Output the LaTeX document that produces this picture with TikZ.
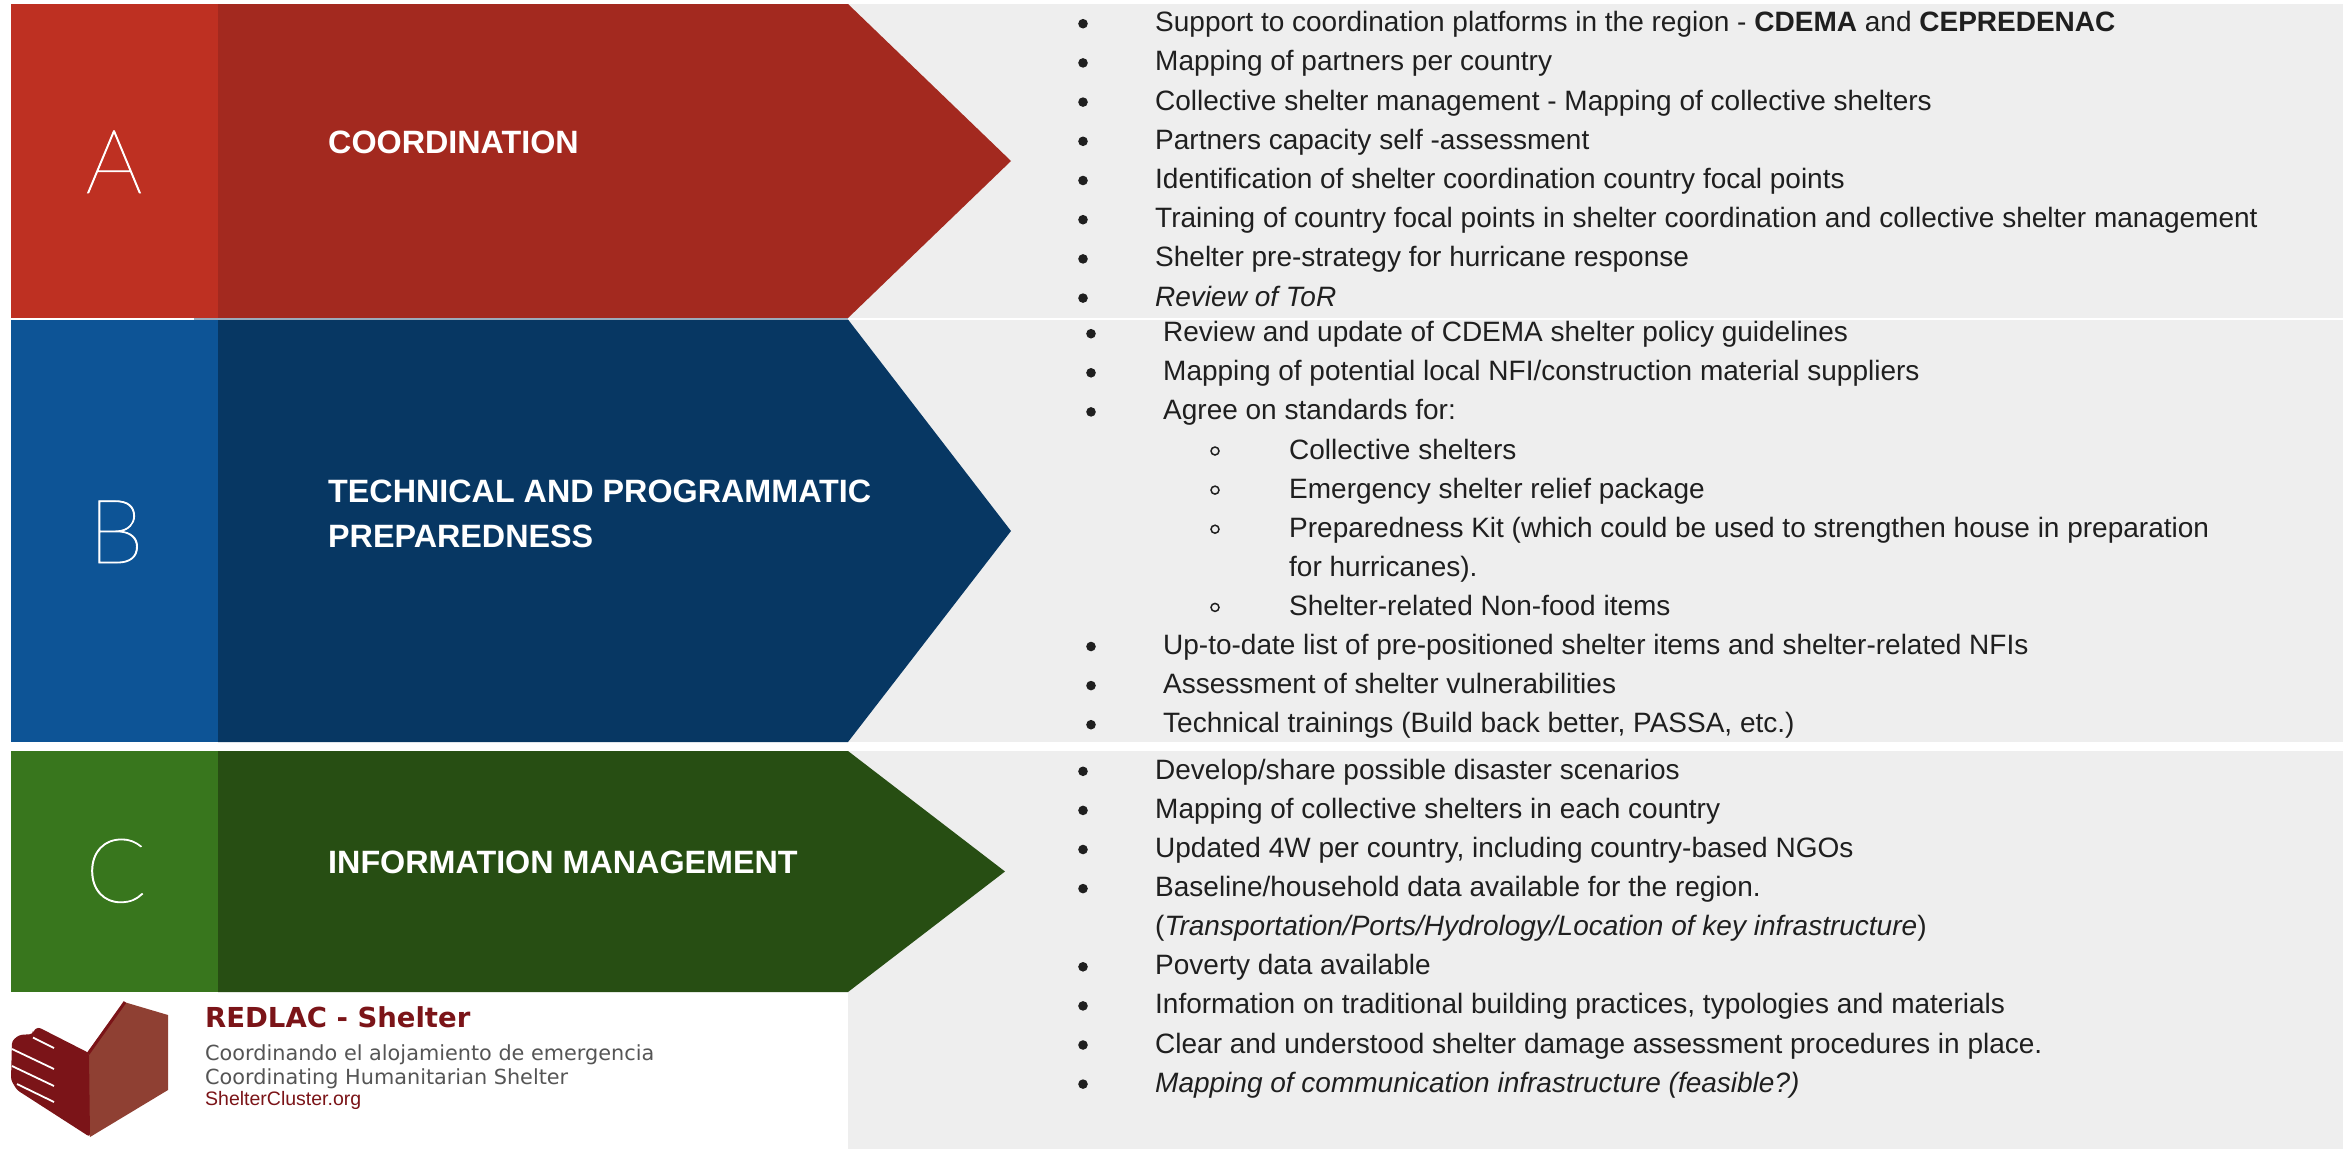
\documentclass[tikz,border=0pt]{standalone}
\usepackage{fontspec}
\setmainfont{Liberation Sans}
\newfontfamily\logofont{DejaVu Sans}
\IfFontExistsTF{Lato Hairline}{\newfontfamily\thinfont{Lato Hairline}[FakeBold=1]}{%
 \IfFontExistsTF{Lato Thin}{\newfontfamily\thinfont{Lato Thin}}{%
  \IfFontExistsTF{Fira Sans Thin}{\newfontfamily\thinfont{Fira Sans Thin}}{%
   \IfFontExistsTF{Lato Light}{\newfontfamily\thinfont{Lato Light}}{%
    \IfFontExistsTF{DejaVu Sans ExtraLight}{\newfontfamily\thinfont{DejaVu Sans ExtraLight}}{%
     \newfontfamily\thinfont{Liberation Sans}}}}}}
\definecolor{Alight}{HTML}{BE3022}
\definecolor{Adark}{HTML}{A3291F}
\definecolor{Blight}{HTML}{0D5496}
\definecolor{Bdark}{HTML}{073763}
\definecolor{Clight}{HTML}{38761D}
\definecolor{Cdark}{HTML}{274E13}
\definecolor{panel}{HTML}{EEEEEE}
\definecolor{txt}{HTML}{1F1F1F}
\definecolor{seam}{HTML}{9AAABB}
\definecolor{logodark}{HTML}{7B1418}
\definecolor{logolight}{HTML}{8F4033}
\definecolor{logogray}{HTML}{555555}
\begin{document}
\begin{tikzpicture}[x=1pt,y=-1pt,
  item/.style={anchor=base west, inner sep=0pt, text=txt, font=\fontsize{28}{34}\selectfont},
  title/.style={anchor=base west, inner sep=0pt, text=white, font=\bfseries\fontsize{32.3}{40}\selectfont},
  letter/.style={anchor=base, inner sep=0pt, text=white, font=\thinfont\fontsize{89}{100}\selectfont},
  dot/.style={fill=txt},
  ring/.style={draw=txt, line width=1.5pt},
  logotitle/.style={anchor=base west, inner sep=0pt, text=logodark, font=\logofont\bfseries\fontsize{27.5}{30}\selectfont},
  logosub/.style={anchor=base west, inner sep=0pt, text=logogray, font=\logofont\fontsize{20.8}{24}\selectfont},
  logourl/.style={anchor=base west, inner sep=0pt, text=logodark, font=\fontsize{19.5}{22}\selectfont}
]
\useasboundingbox (0,0) rectangle (2343,1149);
\fill[white] (0,0) rectangle (2343,1149);
% right panels
\fill[panel] (848,4) rectangle (2343,1149);
\fill[white] (848,318) rectangle (2343,319.5);
\fill[white] (0,742) rectangle (2343,751);
% arrow A
\fill[Adark] (218,4) -- (848,4) -- (1011,161) -- (848,318) -- (218,318) -- cycle;
\fill[Alight] (11,4) rectangle (218,318);
% arrow B
\fill[Bdark] (218,319.5) -- (848,319.5) -- (1011,531) -- (848,742) -- (218,742) -- cycle;
\fill[Blight] (11,319.5) rectangle (218,742);
\fill[seam] (194,318) rectangle (848,319.5);
% arrow C
\fill[Cdark] (218,751) -- (848,751) -- (1005,871.5) -- (848,992) -- (218,992) -- cycle;
\fill[Clight] (11,751) rectangle (218,992);
% letters
\node[letter] (lA) at (114,193) {A};
\node[letter] (lB) at (116,563) {B};
\node[letter] (lC) at (116,902) {C};
% titles
\node[title] (tA) at (328,153) {COORDINATION};
\node[title] (tB1) at (328,502) {TECHNICAL AND PROGRAMMATIC};
\node[title] (tB2) at (328,547) {PREPAREDNESS};
\node[title] (tC) at (328,873) {INFORMATION MANAGEMENT};
% A list
\foreach \y in {31.7,70.9,110.1,149.3,188.5,227.7,266.9,306.1} {\fill[dot] (1083,\y-8) circle (4.8);}
\node[item] (a1) at (1155,31.7) {Support to coordination platforms in the region - \textbf{CDEMA} and \textbf{CEPREDENAC}};
\node[item] (a2) at (1155,70.9) {Mapping of partners per country};
\node[item] (a3) at (1155,110.1) {Collective shelter management - Mapping of collective shelters};
\node[item] (a4) at (1155,149.3) {Partners capacity self -assessment};
\node[item] (a5) at (1155,188.5) {Identification of shelter coordination country focal points};
\node[item] (a6) at (1155,227.7) {Training of country focal points in shelter coordination and collective shelter management};
\node[item] (a7) at (1155,266.9) {Shelter pre-strategy for hurricane response};
\node[item] (a8) at (1155,306.1) {\itshape Review of ToR};
% B list
\foreach \y in {341.7,380.8,419.9,654.5,693.6,732.7} {\fill[dot] (1091,\y-8) circle (4.8);}
\foreach \y in {459.0,498.1,537.2,615.4} {\draw[ring] (1215,\y-8) circle (4);}
\node[item] (b1) at (1163,341.7) {Review and update of CDEMA shelter policy guidelines};
\node[item] (b2) at (1163,380.8) {Mapping of potential local NFI/construction material suppliers};
\node[item] (b3) at (1163,419.9) {Agree on standards for:};
\node[item] (s1) at (1289,459.0) {Collective shelters};
\node[item] (s2) at (1289,498.1) {Emergency shelter relief package};
\node[item] (s3) at (1289,537.2) {Preparedness Kit (which could be used to strengthen house in preparation};
\node[item] (s3b) at (1289,576.3) {for hurricanes).};
\node[item] (s4) at (1289,615.4) {Shelter-related Non-food items};
\node[item] (b4) at (1163,654.5) {Up-to-date list of pre-positioned shelter items and shelter-related NFIs};
\node[item] (b5) at (1163,693.6) {Assessment of shelter vulnerabilities};
\node[item] (b6) at (1163,732.7) {Technical trainings (Build back better, PASSA, etc.)};
% C list
\foreach \y in {779.3,818.4,857.5,896.6,974.8,1013.9,1053.0,1092.1} {\fill[dot] (1083,\y-8) circle (4.8);}
\node[item] (c1) at (1155,779.3) {Develop/share possible disaster scenarios};
\node[item] (c2) at (1155,818.4) {Mapping of collective shelters in each country};
\node[item] (c3) at (1155,857.5) {Updated 4W per country, including country-based NGOs};
\node[item] (c4) at (1155,896.6) {Baseline/household data available for the region.};
\node[item] (c4b) at (1155,935.7) {(\textit{Transportation/Ports/Hydrology/Location of key infrastructure})};
\node[item] (c5) at (1155,974.8) {Poverty data available};
\node[item] (c6) at (1155,1013.9) {Information on traditional building practices, typologies and materials};
\node[item] (c7) at (1155,1053.0) {Clear and understood shelter damage assessment procedures in place.};
\node[item] (c8) at (1155,1092.1) {\itshape Mapping of communication infrastructure (feasible?)};
% logo
\fill[logolight] (87,1053) -- (124,1002) -- (168,1015) -- (168,1090) -- (90,1137) -- cycle;
\draw[logodark, line width=3pt] (88,1054) -- (125,1002);
\fill[logodark, rounded corners=3pt] (89,1053) -- (38,1027) -- (33,1031) -- (33,1034) -- (19,1035) -- (12,1041) -- (11,1080) -- (17,1090) -- (90,1137) -- cycle;
\draw[white, line width=1.8pt] (33,1037.5) -- (54,1048);
\draw[white, line width=1.8pt] (12,1049) -- (54,1069);
\draw[white, line width=1.8pt] (12,1066) -- (54,1086);
\draw[white, line width=1.8pt] (17,1084) -- (54,1102);
\node[logotitle] (lg1) at (205,1027) {REDLAC - Shelter};
\node[logosub] (lg2) at (205,1060) {Coordinando el alojamiento de emergencia};
\node[logosub] (lg3) at (205,1084) {Coordinating Humanitarian Shelter};
\node[logourl] (lg4) at (205,1105) {ShelterCluster.org};
\end{tikzpicture}
\end{document}
